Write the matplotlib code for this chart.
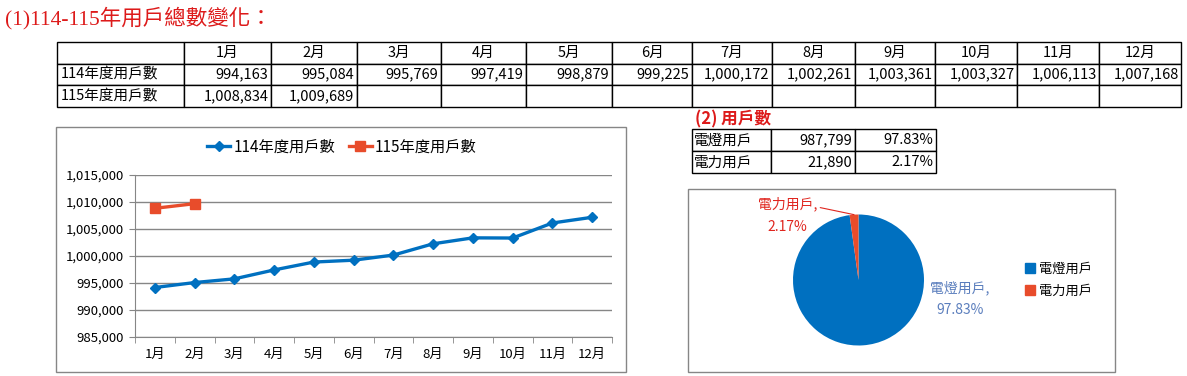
import numpy as np
import matplotlib
matplotlib.use("Agg")
import matplotlib.pyplot as plt
from matplotlib.table import Table
from matplotlib.patches import Rectangle
from matplotlib.lines import Line2D

# ---- data ----
months = ["1月", "2月", "3月", "4月", "5月", "6月",
          "7月", "8月", "9月", "10月", "11月", "12月"]
series_names = ["114年度用戶數", "115年度用戶數"]
users_114 = [994163, 995084, 995769, 997419, 998879, 999225,
             1000172, 1002261, 1003361, 1003327, 1006113, 1007168]
users_115 = [1008834, 1009689]

pie_labels = ["電燈用戶", "電力用戶"]
pie_counts = [987799, 21890]
pie_pcts = ["97.83%", "2.17%"]

title_1 = "(1)114-115年用戶總數變化："
title_2 = "(2) 用戶數"

# ---- layout (pixels) ----
W, H = 1187, 376
CJK = ["Noto Sans CJK TC", "DejaVu Sans"]
BLUE = "#0070c0"
RED = "#e84c2b"
GRID = "#868686"


def box(x0, y0, x1, y1):
    """pixel box (top-left origin) -> figure fraction rect"""
    return [x0 / W, 1 - y1 / H, (x1 - x0) / W, (y1 - y0) / H]


fig = plt.figure(figsize=(W / 100, H / 100), dpi=100)
fig.patch.set_facecolor("white")

fig.text(5 / W, 1 - 18 / H, title_1, color="#dd1a1a", fontsize=15.5,
         family=["Liberation Serif", "Noto Sans CJK TC"], va="center", ha="left")


def make_table(rect, rows, col_w, fontsize, header_row=False):
    ax = fig.add_axes(rect)
    ax.axis("off")
    tb = Table(ax, bbox=[0, 0, 1, 1])
    for r, row in enumerate(rows):
        for c, txt in enumerate(row):
            if header_row and r == 0:
                loc = "center"
            elif c == 0:
                loc = "left"
            else:
                loc = "right"
            cell = tb.add_cell(r, c, width=col_w[c], height=1, text=txt, loc=loc,
                               edgecolor="black", facecolor="white")
            cell.PAD = 0.03
            cell.set_linewidth(1.0)
    tb.auto_set_font_size(False)
    tb.set_fontsize(fontsize)
    for cell in tb.get_celld().values():
        cell.get_text().set_fontfamily(CJK)
        cell.get_text().set_fontweight("light")
    ax.add_table(tb)
    return ax


# ---- table 1 ----
col_edges = [57, 184, 271, 357, 441, 526, 612, 692, 772, 855, 935, 1017, 1099, 1181]
col_w1 = np.diff(col_edges)
rows1 = [[""] + months,
         [series_names[0]] + [f"{v:,}" for v in users_114],
         [series_names[1]] + [f"{v:,}" for v in users_115] + [""] * (len(months) - len(users_115))]
make_table(box(57, 42, 1181, 107), rows1, col_w1, 10.5, header_row=True)

# ---- table 2 ----
fig.text(695 / W, 1 - 119 / H, title_2, color="#dd1a1a", fontsize=12,
         fontweight="bold", family=CJK, va="center", ha="left")
rows2 = [[lab, f"{n:,}", p] for lab, n, p in zip(pie_labels, pie_counts, pie_pcts)]
make_table(box(692, 129, 936, 173), rows2, [79, 84, 81], 10.5)

# ---- line chart ----
fig.patches.append(Rectangle((56 / W, 1 - 372 / H), 570 / W, 245 / H,
                             transform=fig.transFigure, fill=False,
                             edgecolor=GRID, lw=1.0))
ax = fig.add_axes(box(135, 175, 612, 337))
x = np.arange(len(months))
ax.plot(x, users_114, color=BLUE, lw=2.4, marker="D", ms=5.5, label=series_names[0])
ax.plot(x[:len(users_115)], users_115, color=RED, lw=2.4, marker="s", ms=6.5,
        label=series_names[1])
ax.set_xlim(-0.5, len(months) - 0.5)
ax.set_ylim(985000, 1015000)
ax.set_yticks(np.arange(985000, 1015001, 5000))
ax.yaxis.set_major_formatter(matplotlib.ticker.FuncFormatter(lambda v, p: f"{int(v):,}"))
ax.set_xticks(x)
ax.set_xticklabels(months)
ax.set_xticks(np.arange(-0.5, len(months)), minor=True)
ax.tick_params(axis="x", which="major", length=0, pad=8, labelsize=9.5)
ax.tick_params(axis="x", which="minor", length=4, color=GRID, direction="out")
ax.tick_params(axis="y", length=4, color=GRID, labelsize=9.5, pad=4)
for lab in ax.get_xticklabels() + ax.get_yticklabels():
    lab.set_fontfamily(CJK)
ax.grid(axis="y", color=GRID, lw=1.0)
ax.set_axisbelow(True)
for s in ["top", "right"]:
    ax.spines[s].set_visible(False)
for s in ["left", "bottom"]:
    ax.spines[s].set_color(GRID)
ax.legend(loc="center", bbox_to_anchor=(342 / W, 1 - 147 / H),
          bbox_transform=fig.transFigure, ncol=2, frameon=False,
          prop={"family": CJK, "size": 11}, handlelength=1.5,
          columnspacing=0.9, handletextpad=0.2)

# ---- pie chart ----
fig.patches.append(Rectangle((688 / W, 1 - 372 / H), 427 / W, 183 / H,
                             transform=fig.transFigure, fill=False,
                             edgecolor=GRID, lw=1.0))
cx, cy, r = 858.5, 280, 65.5
pax = fig.add_axes(box(cx - r, cy - r, cx + r, cy + r))
wedges, _ = pax.pie(pie_counts, colors=[BLUE, RED], startangle=90,
                    counterclock=False, radius=1.0,
                    wedgeprops={"linewidth": 0})
pax.set_xlim(-1, 1)
pax.set_ylim(-1, 1)
pax.set_aspect("equal")

label_cols = ["#5b7ebd", "#e0261f"]
# label text positions relative to pie (in radii)
label_pos = [(1.55, -0.29), (-1.08, 0.99)]
for i, w in enumerate(wedges):
    txt = f"{pie_labels[i]},\n{pie_pcts[i]}"
    if i == 1:
        mid = np.deg2rad((w.theta1 + w.theta2) / 2)
        pax.annotate(txt, xy=(np.cos(mid), np.sin(mid)), xytext=label_pos[i],
                     ha="center", va="center", color=label_cols[i], fontsize=10,
                     family=CJK, linespacing=1.75, annotation_clip=False,
                     arrowprops=dict(arrowstyle="-", color=label_cols[i], lw=0.8,
                                     relpos=(1.0, 0.72), shrinkA=0, shrinkB=0))
    else:
        pax.text(*label_pos[i], txt, ha="center", va="center",
                 color=label_cols[i], fontsize=10, family=CJK, linespacing=1.75)

handles = [Line2D([], [], ls="", marker="s", ms=7, color=c) for c in [BLUE, RED]]
pax.legend(handles, pie_labels, loc="center left",
           bbox_to_anchor=(1013 / W, 1 - 280 / H), bbox_transform=fig.transFigure,
           frameon=False, prop={"family": CJK, "size": 9.5},
           handlelength=0.8, handletextpad=0.3, labelspacing=0.7)

fig.savefig("out.png", dpi=100, facecolor="white")
